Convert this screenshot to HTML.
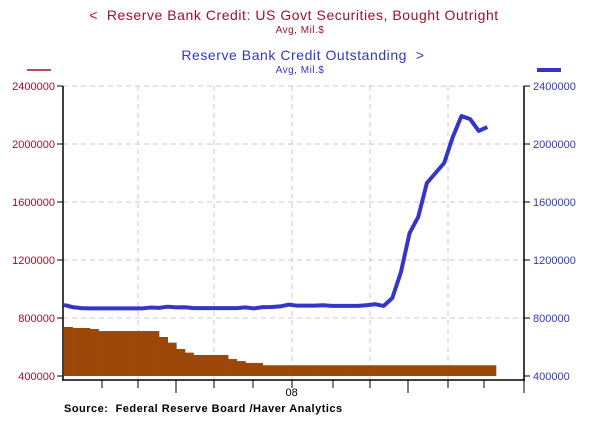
<!DOCTYPE html>
<html><head><meta charset="utf-8"><style>
body{margin:0;background:#fff;width:606px;height:439px;overflow:hidden}
svg{font-family:"Liberation Sans",Arial,sans-serif}
</style></head><body>
<svg id="c" width="606" height="439">
<text x="294" y="20" text-anchor="middle" font-size="14" letter-spacing="0.55" fill="#a0102a">&lt;&#160; Reserve Bank Credit: US Govt Securities, Bought Outright</text>
<text x="300" y="33" text-anchor="middle" font-size="10" letter-spacing="0.5" fill="#a0102a">Avg, Mil.$</text>
<text x="303" y="60" text-anchor="middle" font-size="14" letter-spacing="0.55" fill="#3535c8">Reserve Bank Credit Outstanding&#160; &gt;</text>
<text x="300" y="73" text-anchor="middle" font-size="10" letter-spacing="0.5" fill="#3535c8">Avg, Mil.$</text>
<line x1="27" y1="70" x2="51" y2="70" stroke="#a0102a" stroke-width="1.5"/>
<line x1="537" y1="70" x2="561" y2="70" stroke="#3535c8" stroke-width="4"/>
<g id="grid"></g><g id="bars"></g><g id="line"></g><g id="axes"></g>
<text x="64" y="412" font-size="11" font-weight="bold" letter-spacing="0.5" fill="#000">Source:&#160; Federal Reserve Board /Haver Analytics</text>
</svg>
<script>
const barValues=[738000,731000,731000,724000,710000,710000,710000,710000,710000,710000,710000,669000,630000,586000,561000,545000,545000,545000,545000,517000,503000,490000,490000,474000,474000,474000,474000,474000,474000,474000,474000,474000,474000,474000,474000,474000,474000,474000,474000,474000,474000,474000,474000,474000,474000,474000,474000,474000,474000,474000];
const lineValues=[890000,875000,868000,866000,866000,866000,866000,866000,866000,866000,872000,870000,878000,873000,874000,868000,868000,868000,868000,868000,868000,873000,866000,875000,876000,880000,892000,885000,885000,885000,888000,884000,884000,884000,884000,888000,895000,883000,938000,1117000,1386000,1497000,1731000,1800000,1869000,2048000,2193000,2172000,2090000,2117000];
const yTicks=[400000,800000,1200000,1600000,2000000,2400000];
const xLabels=[{i:26,t:"08"}];
const NS="http://www.w3.org/2000/svg";
const X0=64,BW=8.64,Y0=376,K=58/400000;
const xs=i=>X0+i*BW, ys=v=>Y0-(v-400000)*K;
function mk(tag,attrs,parent){const e=document.createElementNS(NS,tag);for(const k in attrs)e.setAttribute(k,attrs[k]);parent.appendChild(e);return e;}
const G=document.getElementById('grid'),B=document.getElementById('bars'),L=document.getElementById('line'),A=document.getElementById('axes');
yTicks.forEach(v=>{const y=ys(v);
 if(v>400000){const g=mk('line',{x1:63,x2:524,y1:y,y2:y,stroke:'#c8c8c8','stroke-dasharray':'5,4'},G);
 
 }
 mk('line',{x1:57,x2:63,y1:y,y2:y,stroke:'#000'},A);
 mk('line',{x1:524,x2:530,y1:y,y2:y,stroke:'#000'},A);
 const l=mk('text',{x:55,y:y+4,'text-anchor':'end','font-size':11,fill:'#a0102a'},A);l.textContent=v;
 
 
 const r=mk('text',{x:533,y:y+4,'font-size':11,fill:'#3535c8'},A);r.textContent=v;
 
 
});
[138,214,292,370,448].forEach(x=>{const g=mk('line',{x1:x,x2:x,y1:86,y2:380,stroke:'#c8c8c8','stroke-dasharray':'5,4'},G);
 
 });
barValues.forEach((v,i)=>{const y=ys(v);const r=mk('rect',{x:xs(i),y:y,width:BW+0.3,height:Y0-y,fill:'#9c4608'},B);
 
 });
const p=mk('polyline',{points:lineValues.map((v,i)=>xs(i)+','+ys(v)).join(' '),fill:'none',stroke:'#3535c8','stroke-width':4,'stroke-linejoin':'round'},L);


mk('line',{x1:63,x2:63,y1:86,y2:380,stroke:'#000','stroke-width':1.5},A);
mk('line',{x1:524,x2:524,y1:86,y2:380,stroke:'#000','stroke-width':1.5},A);
mk('line',{x1:62,x2:525,y1:380,y2:380,stroke:'#000','stroke-width':1.5},A);
[102,138,176,214,253,292,333,370,408,448,484,524].forEach(x=>{const long=(x==176||x==408||x==524);mk('line',{x1:x,x2:x,y1:380,y2:long?393:388,stroke:'#000'},A);});
xLabels.forEach(d=>{const t=mk('text',{x:xs(d.i)+3,y:396,'text-anchor':'middle','font-size':11,fill:'#000'},A);t.textContent=d.t;
 
 });
</script>
</body></html>
